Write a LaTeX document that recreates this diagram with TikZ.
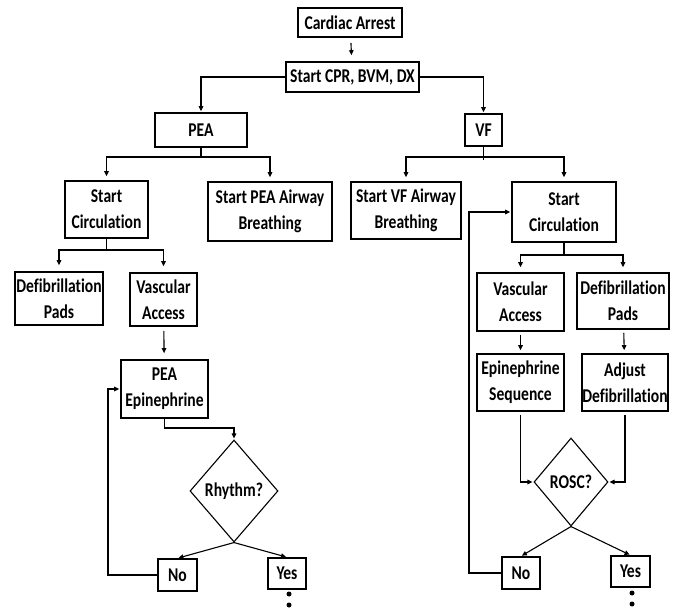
\documentclass[tikz,border=0pt]{standalone}
\usepackage{fontspec}
\setmainfont{Carlito}[FakeStretch=0.8,Ligatures=NoCommon]
\usetikzlibrary{shapes.geometric,arrows.meta}
\begin{document}
\begin{tikzpicture}[x=1pt,y=-1pt,
  box/.style={draw,line width=1.6pt,inner sep=0pt,align=center,font=\bfseries\fontsize{19.5}{26}\selectfont},
  dia/.style={draw,diamond,line width=1.1pt,inner sep=0pt,align=center,font=\bfseries\fontsize{19.5}{26}\selectfont},
  conn/.style={line width=1.1pt},
  arr/.style={conn,-{Triangle[length=5pt,width=4.5pt]}},
  dot/.style={circle,fill=black,inner sep=0pt,minimum size=5pt}]
\useasboundingbox (0,0) rectangle (683,609);
% nodes
\node[box,minimum width=104pt,minimum height=29pt] (ca) at (350,22.5) {Cardiac Arrest};
\node[box,minimum width=133pt,minimum height=30pt] (cpr) at (352.5,77) {Start CPR, BVM, DX};
\node[box,minimum width=92pt,minimum height=34pt] (pea) at (201,130) {PEA};
\node[box,minimum width=37pt,minimum height=32pt] (vf) at (483.5,130) {VF};
\node[box,minimum width=83pt,minimum height=57pt] (sc1) at (106.5,209.5) {Start\\Circulation};
\node[box,minimum width=124pt,minimum height=59pt] (pab) at (270,211.5) {Start PEA Airway\\Breathing};
\node[box,minimum width=110pt,minimum height=57pt] (vab) at (406,210.5) {Start VF Airway\\Breathing};
\node[box,minimum width=104pt,minimum height=60pt] (sc2) at (564,212) {Start\\Circulation};
\node[box,minimum width=88pt,minimum height=53pt] (dp1) at (59,298.5) {Defibrillation\\Pads};
\node[box,minimum width=67pt,minimum height=53pt] (va1) at (163.5,299.5) {Vascular\\Access};
\node[box,minimum width=87pt,minimum height=58pt] (va2) at (520.5,302) {Vascular\\Access};
\node[box,minimum width=92pt,minimum height=56pt] (dp2) at (623,301) {Defibrillation\\Pads};
\node[box,minimum width=87pt,minimum height=58pt] (pe) at (164.5,389) {PEA\\Epinephrine};
\node[box,minimum width=87pt,minimum height=57pt] (es) at (520.5,382.5) {Epinephrine\\Sequence};
\node[box,minimum width=86pt,minimum height=57pt] (ad) at (625,382.5) {Adjust\\Defibrillation};
\node[dia,minimum width=88pt,minimum height=102pt] (rh) at (234,491) {Rhythm?};
\node[dia,minimum width=74pt,minimum height=88pt] (ro) at (571,482) {ROSC?};
\node[box,minimum width=39pt,minimum height=32pt] (no1) at (177.5,575) {No};
\node[box,minimum width=38pt,minimum height=31pt] (yes1) at (287,573.5) {Yes};
\node[box,minimum width=38pt,minimum height=32pt] (no2) at (521,573) {No};
\node[box,minimum width=39pt,minimum height=31pt] (yes2) at (630.5,571.5) {Yes};
\node[dot] (d1) at (289,594) {};
\node[dot] (d2) at (289,605) {};
\node[dot] (d3) at (632,593) {};
\node[dot] (d4) at (632,604) {};
% connectors
\draw[arr,shorten <=5pt,shorten >=6pt] (ca) -- (cpr);
\draw[arr,shorten >=1pt] (cpr.west) -| (pea.north);
\draw[arr,shorten >=1pt] (cpr.east) -| (vf.north);
% PEA branch
\draw[conn] (pea.south) -- (201,157);
\draw[arr,shorten >=4pt] (201,157) -| (sc1.north);
\draw[arr,shorten >=4pt] (201,157) -| (pab.north);
\draw[conn] (sc1.south) -- (106.5,250);
\draw[arr,shorten >=6pt] (106.5,250) -| (dp1.north);
\draw[arr,shorten >=6pt] (106.5,250) -| (va1.north);
\draw[arr,shorten <=4pt,shorten >=6pt] (va1) -- (pe);
\draw[arr,shorten >=1pt] (pe.south) |- (234,428) -- (rh.north);
\draw[arr,shorten >=1pt] (rh.south) -- (no1.north);
\draw[arr,shorten >=1pt] (rh.south) -- (yes1.north);
\draw[arr,shorten >=1pt] (no1.west) -| (108,389) -- (pe.west);
% VF branch
\draw[conn] (vf.south) -- (483.5,160);
\draw[arr,shorten >=4pt] (483.5,157) -| (vab.north);
\draw[arr,shorten >=4pt] (483.5,157) -| (sc2.north);
\draw[conn] (sc2.south) -- (564,255);
\draw[arr,shorten >=5pt] (564,255) -| (va2.north);
\draw[arr,shorten >=5pt] (564,255) -| (dp2.north);
\draw[arr,shorten <=3pt,shorten >=3pt] (va2) -- (es);
\draw[arr,shorten <=3pt,shorten >=3pt] (dp2) -- (ad);
\draw[arr,shorten <=3pt,shorten >=1pt] (es.south) |- (ro.west);
\draw[arr,shorten <=3pt,shorten >=1pt] (ad.south) |- (ro.east);
\draw[arr,shorten >=1pt] (ro.south) -- (no2.north);
\draw[arr,shorten >=1pt] (ro.south) -- (yes2.north);
\draw[arr,shorten >=1pt] (no2.west) -| (469,212) -- (sc2.west);
\end{tikzpicture}
\end{document}
